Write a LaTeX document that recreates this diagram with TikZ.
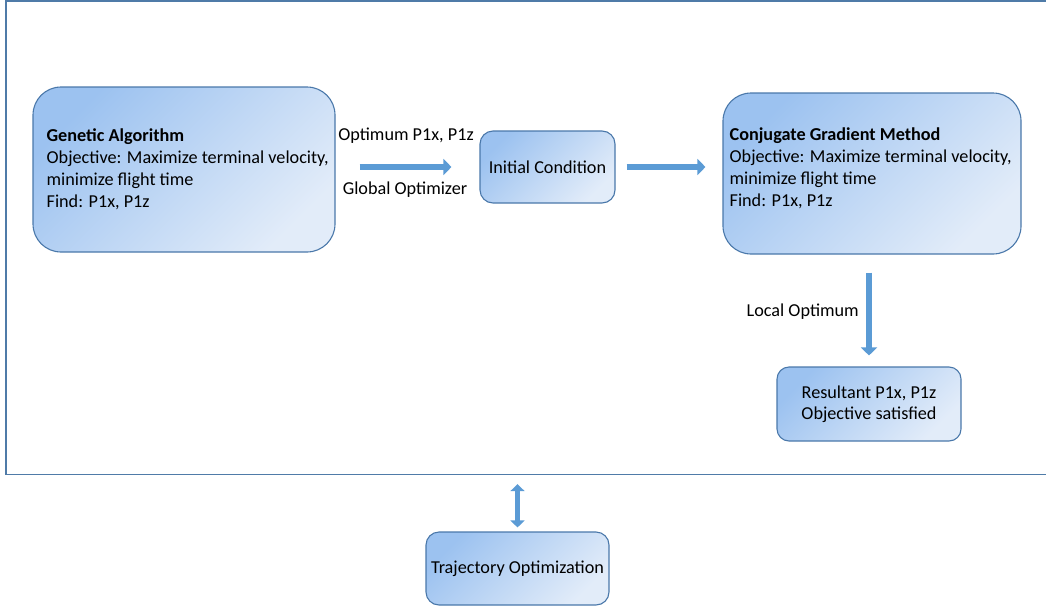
\documentclass[tikz,border=0pt]{standalone}
\usepackage{fontspec}
\setmainfont{Carlito}
\usetikzlibrary{arrows.meta,calc}
\definecolor{bordc}{HTML}{4A78AA}
\definecolor{gtop}{HTML}{9CC2F0}
\definecolor{gbot}{HTML}{E2ECF9}
\definecolor{arrc}{HTML}{5B9BD5}
\definecolor{framec}{HTML}{4F7BA8}
\begin{document}
\begin{tikzpicture}[x=1pt,y=-1pt,
  box/.style={draw=bordc, line width=1.1pt, top color=gtop, bottom color=gbot, shading angle=45, inner sep=0pt},
  txt/.style={font=\fontsize{18.2}{22}\selectfont, inner sep=0pt, text=black},
  blockarrow/.style={draw=arrc, line width=6.5pt, -{Triangle[width=16pt,length=8pt]}},
  dblarrow/.style={draw=arrc, line width=5pt, {Triangle[width=14pt,length=7pt]}-{Triangle[width=14pt,length=7pt]}},
  framebox/.style={draw=framec, line width=1.3pt, inner sep=0pt}]
\useasboundingbox (0,0) rectangle (1046,608);
\node[framebox, minimum width=1050pt, minimum height=473.5pt] (frame) at (531,237.75) {};
% boxes
\node[box, rounded corners=28pt, minimum width=302pt, minimum height=165pt] (ga) at (184,169.5) {};
\node[txt, align=left, anchor=west] (gatext) at ([xshift=14pt]ga.west) {\textbf{Genetic Algorithm}\\Objective: Maximize terminal velocity,\\minimize flight time\\Find: P1x, P1z};
\node[box, rounded corners=13pt, minimum width=135pt, minimum height=72pt, txt] (ic) at (547.5,167) {Initial Condition};
\node[box, rounded corners=28pt, minimum width=298pt, minimum height=161pt] (cgm) at (872,173.5) {};
\node[txt, align=left, anchor=west] (cgmtext) at ([xshift=7pt,yshift=5.5pt]cgm.west) {\textbf{Conjugate Gradient Method}\\Objective: Maximize terminal velocity,\\minimize flight time\\Find: P1x, P1z};
\node[box, rounded corners=12pt, minimum width=184pt, minimum height=74pt, txt, align=center, font=\fontsize{18.2}{21}\selectfont] (res) at (869,404) {Resultant P1x, P1z\\Objective satisfied};
\node[box, rounded corners=13pt, minimum width=183pt, minimum height=73pt, txt] (traj) at (517.5,568.5) {Trajectory Optimization};
% arrows
\draw[blockarrow] ([xshift=24pt]ga.east |- ic.west) -- ([xshift=-28pt]ic.west);
\draw[blockarrow] ([xshift=11pt]ic.east) -- ([xshift=-17pt]cgm.west |- ic.east);
\draw[blockarrow] ([yshift=-18pt]cgm.south -| res.north) -- ([yshift=11pt]res.north);
\draw[dblarrow] ([yshift=-9pt]frame.south -| traj.north) -- ([yshift=4pt]traj.north);
% labels
\node[txt] (lopt) at (406,136) {Optimum P1x, P1z};
\node[txt] (lglob) at (405,190) {Global Optimizer};
\node[txt, anchor=east] (lloc) at (859,312) {Local Optimum};
\end{tikzpicture}
\end{document}
